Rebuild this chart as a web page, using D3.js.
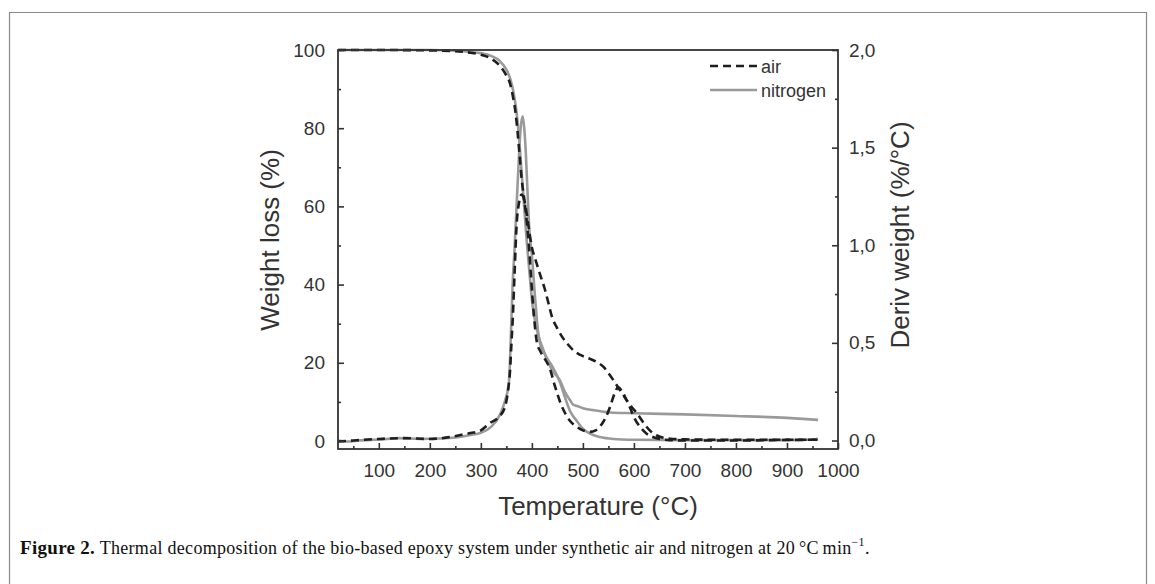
<!DOCTYPE html>
<html><head><meta charset="utf-8">
<script src="https://cdn.jsdelivr.net/npm/d3@7"></script>
<style>
body{margin:0;background:#fff;}
svg{display:block;}
</style></head>
<body>
<svg id="chart" width="1155" height="584"></svg>
<script>
// ---- data ----
const xTicks = [100,200,300,400,500,600,700,800,900,1000];
const leftTicks = [0,20,40,60,80,100];
const rightTicks = [0.0,0.5,1.0,1.5,2.0];
const seriesNames = ["air","nitrogen"];

// TGA weight (%) vs temperature, air
const airTgaT = [20,100,200,250,280,300,320,337,350,357,363,368,372,376,380,385,390,395,400,406,412,418,425,432,440,449,460,470,483,495,514,530,540,552,560,569,578,586,596,606,618,631,645,665,700,800,900,960];
const airTgaV = [100,100,99.9,99.7,99.3,98.8,97.8,96,93.5,91.5,88,84,79,73,67,62,58,53.5,49.5,46.8,44.3,41.8,39,35.5,31.5,29,26.5,24.8,23,22,21,20,19,17,15.5,13.7,12,10.4,8.6,7.1,4.8,2.7,1.4,0.7,0.4,0.3,0.3,0.3];

// TGA weight (%) vs temperature, nitrogen
const n2TgaT = [20,200,250,280,300,320,337,350,358,365,370,374,378,382,386,390,394,398,402,408,415,422,429,440,455,465,475,480,490,500,520,553,600,700,800,900,961];
const n2TgaV = [100,100,99.8,99.5,99.2,98.5,97.2,95,92.5,88.5,84,79,72,65,58,51,45,39,34,29.5,26,23.5,21,18,15.5,12.5,10.4,9.4,8.9,8.4,7.9,7.3,7.1,6.8,6.4,5.9,5.4];

// DTG (%/°C) vs temperature, air
const airDtgT = [20,50,100,150,200,240,260,280,300,318,335,347,353,357,360,363,366,370,375,380,385,390,394,398,404,410,416,425,435,445,455,462,475,488,500,514,525,533,545,553,562,569,576,585,592,602,612,625,637,651,670,700,800,900,955,960];
const airDtgV = [-0.005,0,0.008,0.012,0.008,0.018,0.028,0.038,0.052,0.09,0.12,0.17,0.25,0.35,0.5,0.65,0.85,1.1,1.22,1.26,1.23,1.12,1.0,0.85,0.64,0.5,0.46,0.42,0.37,0.28,0.2,0.156,0.1,0.07,0.052,0.044,0.052,0.07,0.12,0.17,0.24,0.272,0.255,0.21,0.17,0.11,0.07,0.035,0.018,0.008,0.002,0,0,0.003,0.004,0.012];

// DTG (%/°C) vs temperature, nitrogen
const n2DtgT = [20,40,60,100,140,180,220,250,280,300,320,337,347,355,359,362,366,370,374,378,382,385,388,391,395,400,406,412,419,424,430,440,455,465,475,488,500,514,533,560,600,700,800,900,955,960];
const n2DtgV = [0,-0.005,0,0.005,0.012,0.008,0.01,0.015,0.028,0.04,0.07,0.13,0.2,0.3,0.55,0.78,0.98,1.2,1.42,1.6,1.66,1.6,1.48,1.3,1.08,0.95,0.74,0.56,0.47,0.45,0.42,0.38,0.3,0.22,0.15,0.1,0.06,0.035,0.018,0.008,0.004,0.002,0.002,0.002,0.005,0.012];

// ---- layout ----
const svg = d3.select("#chart");
const L = 338, R = 838, T = 50, B = 449;
const x = d3.scaleLinear().domain([20,1000]).range([L,R]);
const yL = d3.scaleLinear().domain([-2.05,100]).range([B,T]);
const yR = d3.scaleLinear().domain([-0.0435,2.0]).range([B,T]);
const axisColor = "#333";
const font = "'Liberation Sans', Arial, Helvetica, sans-serif";

// outer frame
svg.append("path").attr("d","M9.5,590 V12.5 H1146.5 V590")
  .attr("fill","none").attr("stroke","#8a8a8a").attr("stroke-width",1.2);

// curves
const zip = (a,b)=>a.map((t,i)=>[t,b[i]]);
const lineL = d3.line().x(d=>x(d[0])).y(d=>yL(d[1])).curve(d3.curveMonotoneX);
const lineR = d3.line().x(d=>x(d[0])).y(d=>yR(d[1])).curve(d3.curveMonotoneX);
const grayStyle = {stroke:"#9a9a9a", w:2.6, dash:null};
const airStyle = {stroke:"#1e1e1e", w:2.6, dash:"8,5"};
const g = svg.append("g");
function draw(d, gen, st){
  g.append("path").attr("d", gen(d)).attr("fill","none")
    .attr("stroke", st.stroke).attr("stroke-width", st.w)
    .attr("stroke-dasharray", st.dash).attr("stroke-linejoin","round");
}
draw(zip(n2TgaT,n2TgaV), lineL, grayStyle);
draw(zip(n2DtgT,n2DtgV), lineR, grayStyle);
draw(zip(airTgaT,airTgaV), lineL, airStyle);
draw(zip(airDtgT,airDtgV), lineR, airStyle);

// axes
function styleAxis(sel){
  sel.select(".domain").remove();
  sel.selectAll("line").attr("stroke",axisColor).attr("stroke-width",1.6);
  sel.selectAll("text").attr("fill",axisColor).attr("font-family",font).attr("font-size","19px");
}
// bottom
const xMinor = d3.range(50,1000,100);
svg.append("g").attr("transform",`translate(0,${B})`)
  .call(d3.axisBottom(x).tickValues(xMinor).tickSize(-3).tickFormat(""))
  .call(styleAxis);
svg.append("g").attr("transform",`translate(0,${B})`)
  .call(d3.axisBottom(x).tickValues(xTicks).tickSize(-6).tickPadding(15).tickFormat(d3.format("d")))
  .call(styleAxis);
// left
svg.append("g").attr("transform",`translate(${L},0)`)
  .call(d3.axisLeft(yL).tickValues([10,30,50,70,90]).tickSize(-3).tickFormat(""))
  .call(styleAxis);
svg.append("g").attr("transform",`translate(${L},0)`)
  .call(d3.axisLeft(yL).tickValues(leftTicks).tickSize(-6).tickPadding(13).tickFormat(d3.format("d")))
  .call(styleAxis);
// right
const fmtComma = d => d.toFixed(1).replace(".",",");
svg.append("g").attr("transform",`translate(${R},0)`)
  .call(d3.axisRight(yR).tickValues([0.25,0.75,1.25,1.75]).tickSize(-3).tickFormat(""))
  .call(styleAxis);
svg.append("g").attr("transform",`translate(${R},0)`)
  .call(d3.axisRight(yR).tickValues(rightTicks).tickSize(-6).tickPadding(11).tickFormat(fmtComma))
  .call(styleAxis);

// frame lines
svg.append("rect").attr("x",L).attr("y",T).attr("width",R-L).attr("height",B-T)
  .attr("fill","none").attr("stroke",axisColor).attr("stroke-width",1.8);

// titles
svg.append("text").attr("x",(L+R)/2+10).attr("y",515).attr("text-anchor","middle")
  .attr("font-family",font).attr("font-size","26px").attr("fill",axisColor).text("Temperature (°C)");
svg.append("text").attr("transform","translate(279,240) rotate(-90)").attr("text-anchor","middle")
  .attr("font-family",font).attr("font-size","26px").attr("fill",axisColor).text("Weight loss (%)");
svg.append("text").attr("transform","translate(909,235) rotate(-90)").attr("text-anchor","middle")
  .attr("font-family",font).attr("font-size","26px").attr("fill",axisColor).text("Deriv weight (%/°C)");

// legend
const leg = svg.append("g");
const legStyles = [airStyle, grayStyle];
seriesNames.forEach((name,i)=>{
  const yy = 66 + i*24;
  leg.append("line").attr("x1",710).attr("x2",757).attr("y1",yy).attr("y2",yy)
    .attr("stroke",legStyles[i].stroke).attr("stroke-width",2.4).attr("stroke-dasharray",legStyles[i].dash);
  leg.append("text").attr("x",761).attr("y",yy+7).attr("font-family",font).attr("font-size","18px")
    .attr("fill",axisColor).text(name);
});

// caption
const serif = "'Liberation Serif','Times New Roman',serif";
const cap = svg.append("text").attr("x",20).attr("y",554).attr("font-family",serif)
  .attr("font-size","18px").attr("fill","#111").attr("letter-spacing","0.3px");
cap.append("tspan").attr("font-weight","bold").attr("font-size","19px").text("Figure 2.");
cap.append("tspan").text(" Thermal decomposition of the bio-based epoxy system under synthetic air and nitrogen at 20\u2009°C\u2009min");
cap.append("tspan").attr("dy",-8).attr("font-size","12px").text("\u22121");
cap.append("tspan").attr("dy",8).text(".");
</script>
</body></html>
